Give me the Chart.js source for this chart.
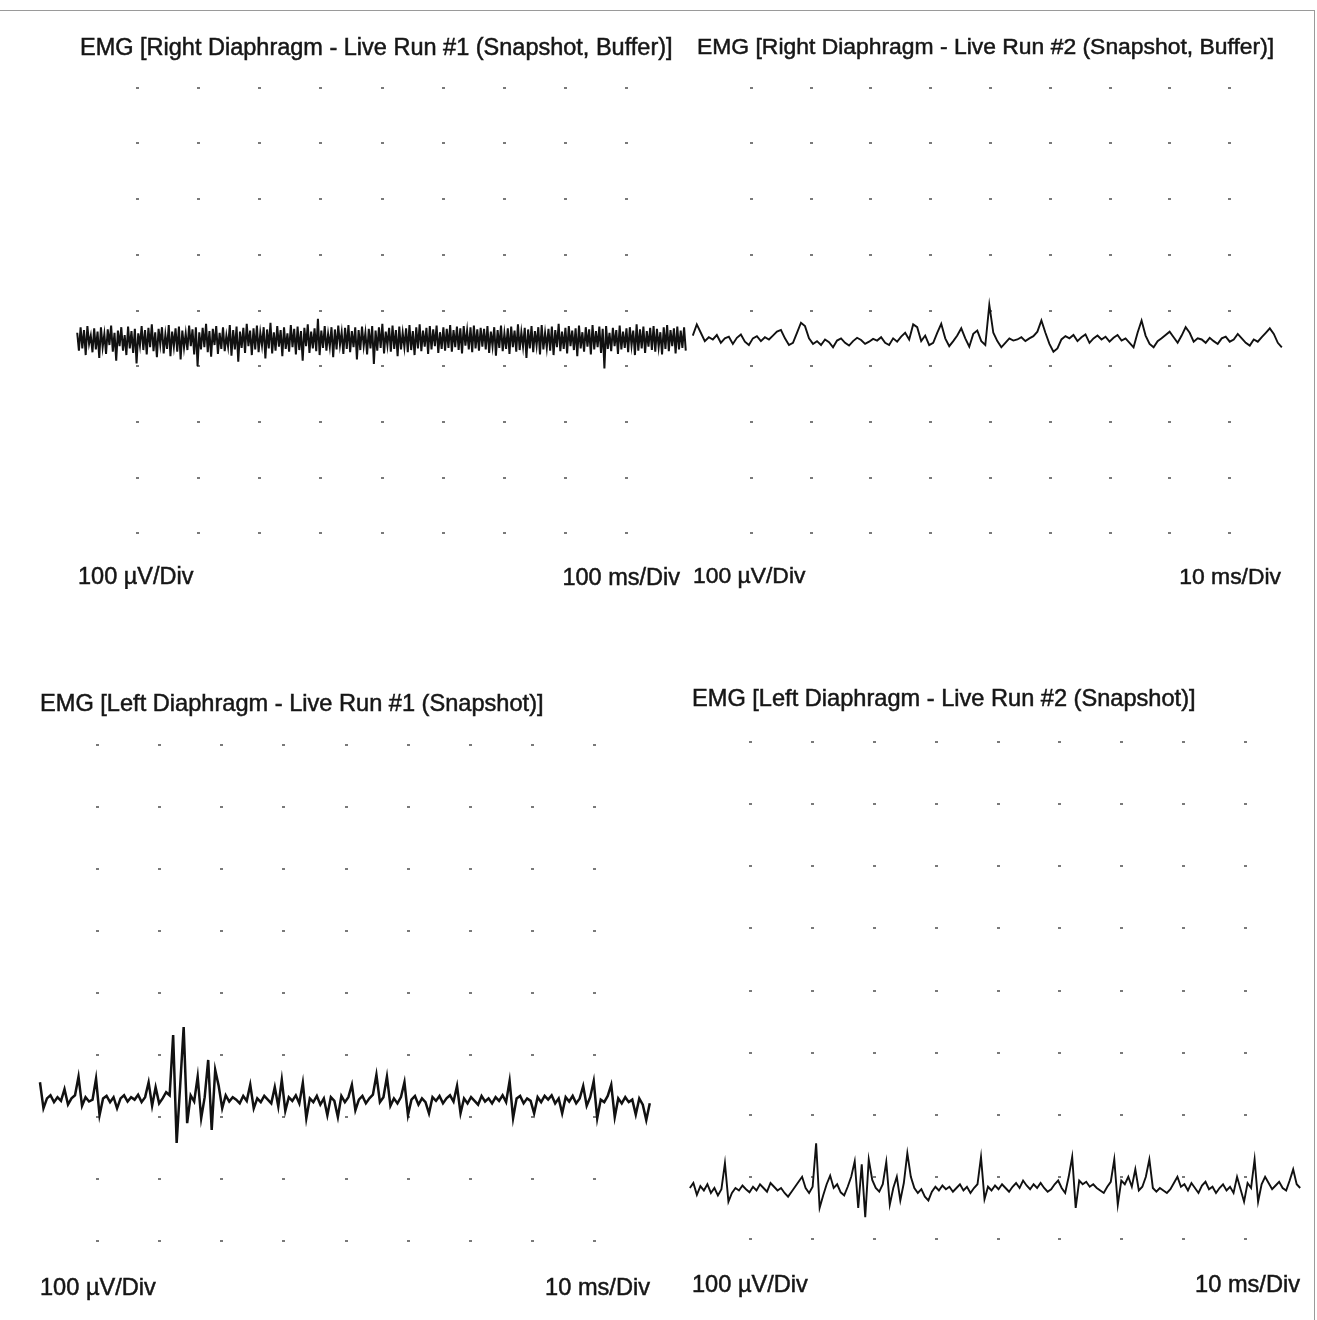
<!DOCTYPE html>
<html>
<head>
<meta charset="utf-8">
<script src="https://cdn.jsdelivr.net/npm/chart.js@4.4.1/dist/chart.umd.min.js"></script>
<style>
  body { margin: 0; background: #fff; }
  #page { position: relative; width: 1317px; height: 1320px; overflow: hidden; }
  #frame { position: absolute; left: 0; top: 10px; width: 1314px; height: 1320px;
           border-top: 1px solid #9a9a9a; border-right: 1px solid #9a9a9a; }
  .scope { position: absolute; }
</style>
</head>
<body>
<div id="page">
  <div id="frame"></div>
  <canvas id="scope1" class="scope" width="611" height="557" style="left:76px;top:32px"></canvas>
  <canvas id="scope2" class="scope" width="598" height="557" style="left:691px;top:32px"></canvas>
  <canvas id="scope3" class="scope" width="621" height="620" style="left:35px;top:683px"></canvas>
  <canvas id="scope4" class="scope" width="619" height="621" style="left:688px;top:680px"></canvas>
</div>
<script>
// titulos de cada canal
const titles = [
    'EMG [Right Diaphragm - Live Run #1 (Snapshot, Buffer)]',
    'EMG [Right Diaphragm - Live Run #2 (Snapshot, Buffer)]',
    'EMG [Left Diaphragm - Live Run #1 (Snapshot)]',
    'EMG [Left Diaphragm - Live Run #2 (Snapshot)]'
];
const gainLabels = ['100 µV/Div', '100 µV/Div', '100 µV/Div', '100 µV/Div'];
const timebaseLabels = ['100 ms/Div', '10 ms/Div', '10 ms/Div', '10 ms/Div'];

// escala: ms por division y uV por division (10 x 10 divisiones)
const msPerDiv = [100, 10, 10, 10];
const uvPerDiv = [100, 100, 100, 100];

// inicio y fin del trazo dentro de la ventana (ms)
const traceStart = [2, 0.3, 0.8, 0.3];
const traceEnd = [998, 98.8, 99.0, 98.9];

// señales en uV
const rightRun1 = [
    -40,-72,-30,-68,-35,-80,-28,-60,-45,-75,-32,-70,-38,-85,-30,-66,-42,-78,-34,-62,
    -27,-74,-40,-90,-36,-64,-30,-72,-44,-80,-29,-68,-37,-76,-33,-95,-41,-63,-28,-71,
    -35,-79,-31,-66,-25,-73,-39,-84,-33,-61,-30,-77,-43,-69,-26,-82,-38,-65,-32,-74,
    -29,-88,-36,-67,-41,-71,-27,-64,-34,-79,-30,-100,-39,-70,-31,-66,-24,-75,-37,-83,
    -33,-62,-28,-78,-40,-69,-30,-73,-45,-65,-26,-81,-35,-70,-29,-92,-38,-67,-31,-76,
    -24,-64,-36,-80,-32,-70,-27,-75,-40,-63,-30,-86,-34,-68,-22,-77,-39,-72,-28,-65,
    -35,-82,-30,-69,-41,-74,-26,-66,-33,-79,-29,-71,-37,-90,-31,-64,-25,-76,-38,-68,
    -32,-73,-15,-80,-36,-67,-28,-72,-42,-65,-30,-84,-34,-70,-27,-62,-39,-78,-31,-69,
    -26,-75,-37,-66,-30,-88,-35,-71,-29,-64,-40,-79,-33,-68,-28,-96,-36,-72,-30,-67,
    -24,-77,-38,-63,-31,-74,-27,-69,-35,-82,-29,-70,-40,-66,-32,-75,-26,-71,-37,-80,
    -30,-68,-25,-73,-36,-65,-31,-78,-28,-70,-34,-64,-27,-76,-39,-69,-30,-72,-33,-67,
    -26,-74,-35,-66,-29,-71,-32,-77,-28,-63,-36,-70,-30,-75,-27,-68,-34,-72,-31,-65,
    -33,-70,-28,-76,-38,-64,-30,-81,-35,-67,-27,-73,-41,-69,-32,-78,-29,-66,-36,-74,
    -25,-71,-39,-65,-31,-85,-34,-68,-28,-75,-37,-63,-30,-79,-26,-70,-40,-67,-33,-72,
    -29,-80,-35,-66,-24,-73,-38,-69,-31,-77,-28,-64,-36,-71,-32,-82,-27,-68,-39,-74,
    -30,-65,-34,-79,-26,-70,-37,-66,-29,-76,-33,-104,-28,-69,-40,-73,-31,-64,-35,-78,
    -27,-70,-38,-67,-32,-75,-30,-63,-36,-80,-25,-72,-34,-68,-29,-76,-37,-65,-31,-71,
    -28,-74,-33,-66,-39,-79,-30,-69,-26,-73,-35,-64,-32,-77,-29,-70,-36,-67,-30,-72
];
const rightRun2 = [
    -45,-25,-40,-55,-48,
    -52,-44,-58,-50,-47,-60,-49,-43,-56,-62,-50,-46,-55,-48,-52,
    -45,-38,-35,-50,-62,
    -58,-40,-22,-28,-50,-60,
    -55,-62,-52,-57,-66,-54,-50,-58,-63,-55,-49,-53,-60,-56,-51,
    -54,-48,-58,-62,-50,-56,-47,-40,-52,
    -25,-30,-55,-45,-62,-58,
    -40,-24,-50,-64,-55,
    -45,-32,-50,-65,-42,
    -36,-55,-62,10,-40,
    -55,-66,-58,-50,-54,
    -52,-48,-55,-50,-46,-38,
    -18,-40,-60,-74,
    -68,-52,-46,-50,-44,-55,-48,-43,-58,-50,
    -45,-52,-47,-56,-49,-44,-54,-50,-58,-66,
    -40,-18,-45,-60,
    -66,-55,-50,-44,-38,-48,
    -58,-45,-30,-40,-56,-50,
    -52,-58,-49,-55,-60,-50,-47,-56,-52,-42,-50,
    -58,-63,-52,-56,-48,-40,
    -32,-42,-58,-66
];
const leftRun1 = [
    -144,-186,-170,-165,-176,-168,-174,-155,-180,-170,
    -165,-135,-182,-168,-175,-172,-138,-197,-170,-166,
    -176,-168,-186,-170,-165,-175,-168,-172,-164,-176,
    -168,-144,-182,-152,-178,-170,-160,-165,-68,-242,
    -150,-55,-210,-165,-175,-135,-202,-168,-108,-221,
    -124,-150,-186,-165,-175,-168,-172,-178,-166,-174,
    -148,-186,-170,-176,-166,-172,-178,-152,-183,-140,
    -190,-168,-174,-165,-178,-145,-202,-170,-176,-166,
    -180,-170,-197,-168,-174,-200,-166,-176,-168,-148,
    -189,-172,-166,-178,-170,-164,-132,-176,-168,-135,
    -182,-170,-178,-168,-144,-197,-172,-166,-180,-170,
    -176,-194,-168,-174,-166,-178,-170,-165,-175,-150,
    -194,-170,-178,-168,-174,-180,-166,-175,-170,-178,
    -168,-174,-165,-176,-142,-202,-170,-166,-178,-170,
    -174,-194,-168,-176,-166,-172,-165,-178,-170,-194,
    -168,-175,-166,-178,-170,-150,-182,-168,-142,-202,
    -172,-176,-166,-148,-200,-170,-178,-168,-176,-172,
    -196,-170,-180,-205,-178
];
const leftRun2 = [
    -318,-310,-329,-315,-322,-312,-326,-318,-330,-320,
    -278,-340,-326,-318,-322,-314,-320,-325,-316,-322,
    -312,-318,-324,-310,-316,-322,-318,-326,-332,-324,
    -316,-308,-300,-318,-326,-316,-246,-350,-330,-312,
    -298,-318,-312,-325,-330,-316,-300,-275,-350,-280,
    -365,-272,-305,-318,-324,-312,-276,-345,-318,-300,
    -338,-310,-262,-300,-318,-326,-320,-332,-338,-324,
    -316,-322,-314,-320,-316,-324,-318,-312,-322,-316,
    -326,-318,-312,-268,-336,-316,-322,-314,-320,-312,
    -318,-324,-316,-310,-318,-306,-314,-320,-312,-318,
    -310,-318,-324,-320,-312,-306,-318,-326,-300,-268,
    -350,-306,-312,-308,-316,-312,-318,-322,-326,-316,
    -308,-272,-345,-306,-312,-300,-316,-288,-322,-316,
    -300,-272,-318,-324,-318,-322,-326,-320,-310,-300,
    -316,-312,-322,-310,-318,-326,-314,-308,-320,-316,
    -326,-318,-312,-322,-316,-326,-300,-320,-340,-310,
    -318,-272,-340,-312,-300,-310,-320,-314,-308,-318,
    -322,-306,-288,-312,-318
];

const signals = [rightRun1, rightRun2, leftRun1, leftRun2];
const lineWidths = [2.0, 1.9, 2.5, 1.9];
const fontSizes = [23.5, 22.9, 23.6, 23.6];

// puntos de la reticula y rotulos del osciloscopio
const scopePlugin = {
    id: 'scope',
    beforeDatasetsDraw(chart, args, opts) {
        const ctx = chart.ctx;
        const xs = chart.scales.x;
        const ys = chart.scales.y;
        ctx.save();
        ctx.fillStyle = '#7a7a7a';
        for (let i = 1; i < 10; i++) {
            const px = xs.getPixelForValue(xs.min + i * opts.xDiv);
            for (let j = 1; j < 10; j++) {
                const py = ys.getPixelForValue(ys.min + j * opts.yDiv);
                ctx.fillRect(Math.round(px) - 1, Math.round(py) - 1, 3, 2);
            }
        }
        ctx.restore();
    },
    afterDraw(chart, args, opts) {
        const ctx = chart.ctx;
        ctx.save();
        ctx.fillStyle = '#161616';
        ctx.strokeStyle = '#161616';
        ctx.lineWidth = 0.5;
        ctx.font = opts.fontSize + 'px "Liberation Sans", Arial, sans-serif';
        ctx.textBaseline = 'middle';
        const dibujar = (txt, pos, align) => {
            ctx.textAlign = align;
            ctx.fillText(txt, pos[0], pos[1]);
            ctx.strokeText(txt, pos[0], pos[1]);
        };
        dibujar(opts.title, opts.titlePos, 'left');
        dibujar(opts.gain, opts.gainPos, 'left');
        dibujar(opts.timebase, opts.timebasePos, 'right');
        ctx.restore();
    }
};

// posiciones de los textos relativas a cada lienzo
const textPos = [
    { title: [4, 17], gain: [2, 546], timebase: [604, 547] },
    { title: [6, 16], gain: [2, 545], timebase: [590, 546] },
    { title: [5, 21], gain: [5, 605], timebase: [615, 605] },
    { title: [4, 19], gain: [4, 605], timebase: [612, 605] }
];

function crearScope(n) {
    const values = signals[n];
    const dt = (traceEnd[n] - traceStart[n]) / (values.length - 1);
    const puntos = values.map((v, i) => ({ x: traceStart[n] + i * dt, y: v }));

    new Chart(document.getElementById('scope' + (n + 1)), {
        type: 'line',
        data: {
            datasets: [{
                data: puntos,
                borderColor: '#111',
                borderWidth: lineWidths[n],
                pointRadius: 0,
                tension: 0,
                fill: false
            }]
        },
        options: {
            responsive: false,
            animation: false,
            layout: { padding: 0 },
            plugins: {
                legend: { display: false },
                tooltip: { enabled: false },
                scope: {
                    xDiv: msPerDiv[n],
                    yDiv: uvPerDiv[n],
                    fontSize: fontSizes[n],
                    title: titles[n],
                    gain: gainLabels[n],
                    timebase: timebaseLabels[n],
                    titlePos: textPos[n].title,
                    gainPos: textPos[n].gain,
                    timebasePos: textPos[n].timebase
                }
            },
            scales: {
                x: { type: 'linear', display: false, min: 0, max: msPerDiv[n] * 10 },
                y: { type: 'linear', display: false, min: -uvPerDiv[n] * 5, max: uvPerDiv[n] * 5 }
            }
        },
        plugins: [scopePlugin]
    });
}

for (let n = 0; n < 4; n++) {
    crearScope(n);
}
</script>
</body>
</html>
